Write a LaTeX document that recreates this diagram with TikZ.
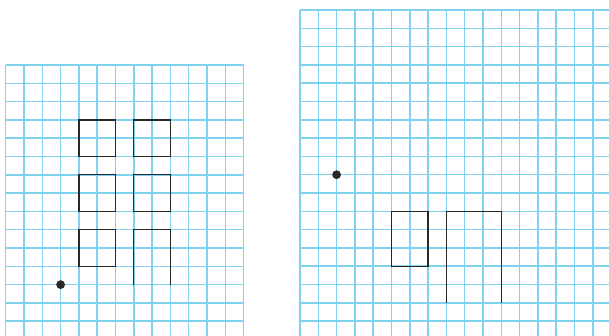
\documentclass[tikz,border=0pt]{standalone}
\definecolor{gridblue}{RGB}{128,210,240}
\definecolor{ink}{RGB}{40,40,40}
\tikzset{
  gridline/.style={draw=gridblue, line width=1.5pt},
  figline/.style={draw=ink, line width=1.3pt},
  dotmark/.style={fill=ink, draw=none}
}
\begin{document}
\begin{tikzpicture}[x=1pt,y=-1pt]
\useasboundingbox (0,0) rectangle (609,335);
\clip (0,0) rectangle (609,335);
% left grid
\begin{scope}[shift={(5.7,65)}, x=18.3pt, y=-18.3pt]
  \foreach \i in {0,...,13} \draw[gridline] (\i,0) -- (\i,15);
  \foreach \j in {0,...,14} \draw[gridline] (0,\j) -- (13,\j);
  \draw[figline] (4,3) rectangle (6,5);
  \draw[figline] (7,3) rectangle (9,5);
  \draw[figline] (4,6) rectangle (6,8);
  \draw[figline] (7,6) rectangle (9,8);
  \draw[figline] (4,9) rectangle (6,11);
  \draw[figline] (7,12) -- (7,9) -- (9,9) -- (9,12);
  \fill[dotmark] (3,12) circle (4.4pt);
\end{scope}
% right grid
\begin{scope}[shift={(300,10)}, x=18.3pt, y=-18.3pt]
  \foreach \i in {0,...,16} \draw[gridline] (\i,0) -- (\i,18);
  \foreach \j in {0,...,17} \draw[gridline] (0,\j) -- (17,\j);
  \draw[figline] (5,11) rectangle (7,14);
  \draw[figline] (8,16) -- (8,11) -- (11,11) -- (11,16);
  \fill[dotmark] (2,9) circle (4.4pt);
\end{scope}
\end{tikzpicture}
\end{document}
